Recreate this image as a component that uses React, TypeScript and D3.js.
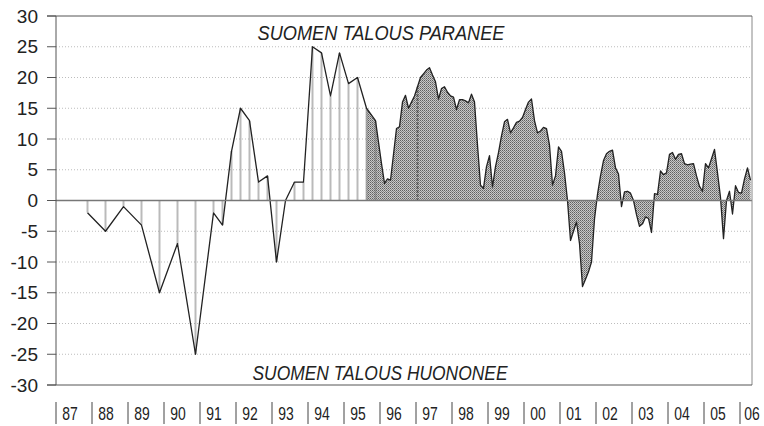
import React from 'react'
import * as d3 from 'd3'

const W = 764
const H = 426

// Half-year surveys, Nov 1987 - Nov 1990
const semiStart = 1987.875
const semiValues = [-2, -5, -1, -4, -15, -7, -25]

// Quarterly surveys, May 1991 - Nov 1995
const quarterStart = 1991.375
const quarterValues = [-2, -4, 8, 15, 13, 3, 4, -10, 0, 3, 3, 25, 24, 17, 24, 19, 20, 15, 13]

// Monthly surveys, Jan 1996 - Apr 2006
const monthStart = 1996
const monthValues = [
  6, 2.8, 3.5, 3.3, 7.5, 11.7, 12, 16, 17.1, 15, 16, 17, // 1996
  18.5, 20, 20.6, 21.2, 21.6, 20.4, 19.3, 16.5, 18.2, 18.5, 17.6, 17, // 1997
  16.8, 14.8, 16.4, 16.4, 16.2, 15.9, 17.3, 16, 9, 2.5, 2, 5.5, // 1998
  7.3, 2.2, 5.5, 7.8, 10.5, 12.8, 13.2, 11, 11.8, 12.7, 12.9, 13.5, // 1999
  14.8, 16, 16.5, 13, 11, 11.3, 11.9, 11.7, 9, 2.5, 4, 8.7, // 2000
  8, 4.5, 0, -6.5, -5, -3.5, -7, -14, -12.8, -11.6, -10, -3, // 2001
  1, 4, 6.5, 7.6, 8, 8.2, 5.3, 4.3, -1, 1.4, 1.5, 1.2, // 2002
  0, -2.3, -4.2, -3.8, -2.7, -2.9, -5.2, 1.1, 1, 4.8, 4.2, 4.5, // 2003
  7.5, 7.8, 6.7, 7.5, 7.6, 6, 5.8, 5.9, 6, 4, 2.3, 1.5, // 2004
  6, 5.3, 6.8, 8.3, 4.5, 0.5, -6.2, 0, 1.5, -2.2, 2.4, 1.3, // 2005
  1.2, 3.5, 5.3, 3.3, // 2006
]

const yTicks = [30, 25, 20, 15, 10, 5, 0, -5, -10, -15, -20, -25, -30]
const yearLabels = ['87', '88', '89', '90', '91', '92', '93', '94', '95', '96',
  '97', '98', '99', '00', '01', '02', '03', '04', '05', '06']

const topText = 'SUOMEN TALOUS PARANEE'
const bottomText = 'SUOMEN TALOUS HUONONEE'

const font = '"Liberation Sans Narrow", "Arial Narrow", "Liberation Sans", sans-serif'

type Pt = { t: number; v: number }

export default function App() {
  const left = 56
  const right = 752
  const top = 16
  const bottom = 385

  const x = d3.scaleLinear().domain([1987, 2006 + 1 / 3]).range([left, right])
  const y = d3.scaleLinear().domain([-30, 30]).range([bottom, top])

  const semi: Pt[] = semiValues.map((v, i) => ({ t: semiStart + i * 0.5, v }))
  const quarter: Pt[] = quarterValues.map((v, i) => ({ t: quarterStart + i * 0.25, v }))
  const month: Pt[] = monthValues.map((v, i) => ({ t: monthStart + (i + 0.5) / 12, v }))

  // early part: line with drop lines; later part: shaded area
  const early = [...semi, ...quarter]
  const shaded = [...quarter.slice(-2), ...month]
  const all = [...semi, ...quarter, ...month]

  const line = d3.line<Pt>().x(d => x(d.t)).y(d => y(d.v))
  const area = d3.area<Pt>().x(d => x(d.t)).y0(y(0)).y1(d => y(d.v))

  const mark97 = month[12]

  return (
    <svg width={W} height={H} style={{ position: 'absolute', left: 0, top: 0, background: '#fff' }}>
      <defs>
        <pattern id="stip" width="2" height="2" patternUnits="userSpaceOnUse">
          <rect width="2" height="2" fill="#c8c8c8" />
          <rect width="1" height="1" fill="#606060" />
          <rect x="1" y="1" width="1" height="1" fill="#858585" />
        </pattern>
      </defs>

      {/* grid */}
      {yTicks.filter(v => v !== 0 && Math.abs(v) !== 30).map(v => (
        <line key={v} x1={left} x2={right} y1={y(v)} y2={y(v)}
          stroke="#bdbdbd" strokeWidth={1} strokeDasharray="1,2" />
      ))}

      {/* monthly shaded area */}
      <path d={area(shaded) || ''} fill="url(#stip)" />

      {/* drop lines for early surveys */}
      {early.map((d, i) => (
        <line key={i} x1={x(d.t)} x2={x(d.t)} y1={y(0)} y2={y(d.v)}
          stroke="#777" strokeWidth={2} strokeDasharray="1,1" />
      ))}

      <line x1={x(mark97.t)} x2={x(mark97.t)} y1={y(0)} y2={y(mark97.v)}
        stroke="#444" strokeWidth={1.5} strokeDasharray="2,2" />

      <path d={line(all) || ''} fill="none" stroke="#222" strokeWidth={1.3} strokeLinejoin="round" />

      {/* zero line */}
      <line x1={left} x2={right} y1={y(0)} y2={y(0)} stroke="#777" strokeWidth={1.5} />

      {/* frame */}
      <line x1={left} x2={left} y1={top} y2={bottom} stroke="#555" strokeWidth={1} />
      <line x1={right} x2={right} y1={top} y2={bottom} stroke="#888" strokeWidth={1} />
      <line x1={left - 9} x2={right} y1={top} y2={top} stroke="#555" strokeWidth={1} />
      <line x1={left - 9} x2={right} y1={bottom} y2={bottom} stroke="#555" strokeWidth={1} />

      {/* y axis */}
      {yTicks.map(v => (
        <g key={v}>
          <line x1={left - 9} x2={left} y1={y(v)} y2={y(v)} stroke="#555" strokeWidth={1} />
          <text x={38} y={y(v) + 6.5} textAnchor="end" fontFamily={font} fontSize={19} fill="#222">
            {v}
          </text>
        </g>
      ))}

      {/* year labels */}
      {yearLabels.map((lab, i) => (
        <g key={lab}>
          <line x1={x(1987 + i)} x2={x(1987 + i)} y1={402} y2={424} stroke="#444" strokeWidth={1} />
          <text x={Math.min(x(1987 + i) + 14, W - 12)} y={420} textAnchor="middle" fontFamily={font}
            fontSize={18.5} fill="#222" textLength={15.5} lengthAdjust="spacingAndGlyphs">{lab}</text>
        </g>
      ))}

      <text x={381} y={40} textAnchor="middle" fontFamily={font} fontStyle="italic" fontSize={20.5}
        fill="#222" textLength={247} lengthAdjust="spacingAndGlyphs">{topText}</text>
      <text x={380} y={380} textAnchor="middle" fontFamily={font} fontStyle="italic" fontSize={20.5}
        fill="#222" textLength={255} lengthAdjust="spacingAndGlyphs">{bottomText}</text>
    </svg>
  )
}
